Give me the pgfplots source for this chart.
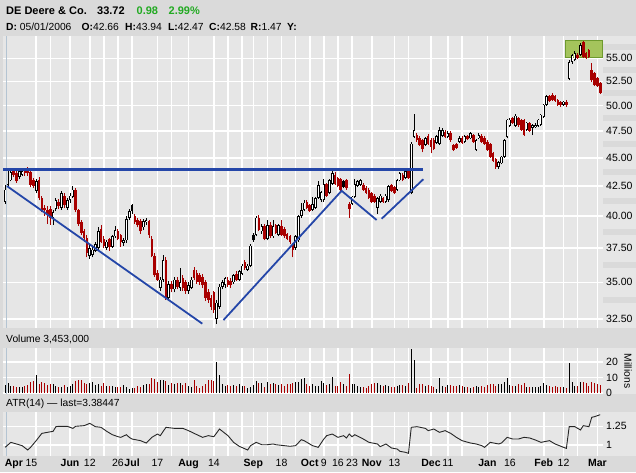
\documentclass[border=0pt]{standalone}
\usepackage{fontspec}
\setmainfont{Liberation Sans}
\usepackage{pgfplots}
\usepackage{pgfplotstable}
\pgfplotsset{compat=1.18}
\definecolor{bg}{HTML}{DADADA}
\definecolor{plotbg}{HTML}{E6E6E6}
\definecolor{cred}{HTML}{A80000}
\definecolor{tblue}{HTML}{2446A8}
\definecolor{cgreen}{HTML}{22AA22}
\definecolor{gfill}{HTML}{A4C45C}
\definecolor{gdraw}{HTML}{6E9A2E}
\definecolor{cross}{HTML}{B4C4D2}

% j = trading day (0 = 28 Apr 2006), o h l c, t: 0 down (red), 1 up (hollow), 2 down-filled black, v = volume (millions)
\pgfplotstableread{
j o h l c t v
0 41.2 42.6 41.0 42.2 1 5.2
1 42.66 43.94 42.47 42.58 2 6.5
2 43.0 44.0 42.9 43.7 1 4.7
3 43.9 44.0 43.3 43.5 0 4.3
4 43.6 43.8 42.8 42.9 0 3.7
5 43.3 43.9 43.1 43.8 1 4.1
6 43.5 43.9 43.4 43.8 1 4.1
7 43.8 43.9 43.4 43.6 0 4.7
8 43.9 44.2 43.4 43.6 0 5.2
9 43.7 43.9 42.4 42.6 0 7.3
10 43.0 43.2 42.3 42.5 0 8.0
11 42.1 43.1 41.9 42.9 1 11.6
12 43.0 43.3 41.3 41.5 0 5.8
13 41.5 41.7 40.3 40.5 0 6.9
14 40.7 40.9 40.0 40.5 0 6.5
15 40.5 40.8 39.4 40.1 0 5.2
16 40.6 40.8 39.3 39.9 0 5.8
17 39.9 40.5 39.3 40.3 1 5.8
18 40.6 41.5 40.4 41.3 1 4.7
19 41.2 41.4 40.6 40.8 0 3.7
20 40.7 42.1 40.5 41.9 1 3.7
21 41.7 41.9 40.7 40.9 0 5.2
22 40.7 41.5 40.5 41.3 1 3.7
23 41.3 41.9 41.1 41.7 1 4.7
24 41.6 42.5 41.5 42.2 1 5.8
25 42.2 42.3 40.3 40.5 0 8.0
26 40.5 40.6 39.2 39.4 0 8.6
27 39.5 39.7 38.5 38.7 0 8.6
28 38.8 39.0 38.0 38.3 0 6.5
29 38.3 38.5 36.8 37.1 0 5.8
30 36.9 37.8 36.7 37.5 1 6.5
31 37.0 37.6 36.8 37.4 1 6.9
32 37.3 38.0 37.2 37.8 1 5.2
33 37.5 39.1 37.4 38.8 1 5.6
34 39.0 39.3 37.9 38.0 0 4.7
35 38.2 38.4 37.5 37.7 0 6.5
36 37.5 38.1 37.4 38.0 1 4.7
37 38.2 38.3 37.3 37.6 0 4.3
38 37.6 38.5 37.5 38.4 1 4.3
39 38.4 39.2 38.3 38.9 1 3.7
40 38.8 39.0 38.1 38.2 0 3.9
41 38.5 38.6 37.6 38.0 0 3.7
42 37.9 38.3 37.7 38.1 1 5.2
43 38.1 40.0 37.9 39.8 1 4.1
44 39.9 40.6 39.7 40.4 1 2.6
45 40.9 41.0 40.2 40.4 2 3.0
46 40.0 40.2 39.4 39.5 0 3.4
47 39.7 39.9 39.1 39.3 0 4.3
48 39.6 39.8 38.6 38.8 0 3.7
49 39.1 39.8 38.9 39.6 1 5.2
50 39.5 39.9 39.3 39.7 1 5.8
51 39.6 39.7 38.3 38.5 0 5.8
52 38.2 38.4 36.8 36.9 0 9.5
53 36.9 37.1 35.4 35.5 0 9.0
54 35.7 35.9 35.1 35.2 0 6.9
55 34.6 35.4 34.4 35.2 1 8.6
56 35.2 37.0 35.0 36.6 1 8.6
57 36.6 36.8 33.8 33.9 0 8.0
58 33.9 35.1 33.7 34.9 1 5.2
59 34.9 35.1 34.3 34.5 0 6.5
60 34.5 35.4 34.3 35.2 1 5.6
61 35.2 35.4 34.5 34.7 0 6.5
62 34.6 36.0 34.4 35.0 1 6.5
63 35.3 35.5 34.4 34.6 0 5.2
64 35.0 35.2 34.2 34.4 0 6.5
65 34.4 35.0 34.2 34.8 1 4.7
66 34.6 35.4 34.5 35.2 1 3.7
67 35.9 36.1 35.2 35.3 0 8.6
68 35.7 35.9 34.9 35.0 0 4.3
69 35.5 35.7 34.8 35.0 0 3.4
70 35.4 35.6 34.6 34.8 0 4.3
71 35.0 35.2 33.7 33.9 0 5.8
72 34.3 34.5 33.6 33.8 0 8.6
73 33.9 34.1 33.1 33.3 0 8.6
74 34.3 34.4 32.9 33.1 0 8.0
75 32.5 33.8 32.2 33.6 1 20.2
76 33.3 34.9 33.2 34.7 1 11.6
77 34.7 35.2 34.5 35.0 1 5.8
78 34.8 35.4 34.6 35.3 1 4.7
79 35.2 35.4 34.7 34.8 0 5.2
80 35.1 35.3 34.6 34.8 0 4.7
81 35.0 35.6 34.9 35.5 1 5.2
82 35.6 35.8 35.1 35.2 0 4.7
83 35.2 35.9 35.1 35.8 1 5.6
84 35.6 36.3 35.5 36.2 1 4.3
85 36.5 36.6 35.9 36.0 0 4.3
86 35.9 36.3 35.8 36.2 1 3.4
87 36.2 37.8 36.1 37.7 1 3.9
88 38.5 38.7 38.0 38.1 2 5.2
89 38.5 40.0 38.4 39.9 1 7.7
90 39.9 40.1 38.8 38.9 0 6.5
91 38.8 39.4 38.6 39.2 1 6.5
92 39.2 39.4 38.1 38.2 0 3.9
93 38.2 39.7 38.1 39.3 1 6.9
94 39.3 39.5 38.3 38.4 0 6.0
95 38.4 39.7 38.3 39.2 1 6.5
96 39.3 39.4 38.6 38.7 0 5.6
97 38.5 39.4 38.4 39.3 1 5.2
98 39.2 39.7 38.4 38.5 0 5.8
99 39.0 39.1 38.3 38.4 0 4.3
100 38.6 38.7 38.1 38.2 0 5.6
101 38.4 38.5 37.8 38.0 0 5.6
102 37.8 37.9 36.8 37.4 0 6.5
103 37.5 38.5 37.4 38.4 1 7.3
104 38.1 40.1 38.0 40.0 1 7.3
105 40.0 41.1 39.9 40.5 1 9.0
106 40.5 41.3 40.4 41.1 1 9.5
107 41.2 41.3 40.6 40.7 0 5.6
108 40.9 41.0 40.3 40.4 0 4.7
109 40.5 41.6 40.4 41.0 1 5.6
110 40.7 41.6 40.6 41.5 1 4.7
111 41.5 42.9 41.4 42.6 1 4.3
112 41.3 42.1 41.2 42.0 1 8.0
113 41.3 43.1 41.2 42.7 1 6.5
114 42.7 42.8 41.6 41.7 0 5.2
115 41.9 43.1 41.8 43.0 1 5.8
116 42.7 43.9 42.6 43.6 1 10.1
117 43.5 43.7 42.6 42.7 0 4.7
118 43.2 43.3 42.4 42.5 0 4.3
119 43.1 43.2 42.1 42.2 0 6.9
120 42.9 43.0 42.3 42.4 2 5.8
121 43.0 43.1 42.2 42.3 0 4.7
122 41.0 41.2 39.9 40.6 0 12.3
123 41.0 41.7 40.9 41.6 1 5.8
124 41.6 43.1 41.5 42.7 1 5.8
125 42.5 43.0 42.4 42.9 1 4.7
126 42.6 43.1 42.5 43.0 1 4.1
127 42.6 42.8 42.1 42.2 0 3.7
128 42.3 42.5 41.8 41.9 0 3.0
129 42.2 42.3 41.4 41.5 0 4.7
130 41.9 42.0 41.1 41.2 0 6.0
131 41.7 41.8 41.1 41.2 0 6.5
132 40.7 41.6 40.2 41.5 1 6.5
133 41.2 41.8 41.1 41.7 1 5.2
134 41.5 41.6 41.1 41.2 0 4.7
135 41.2 41.8 41.1 41.7 1 5.2
136 41.3 42.6 41.2 42.5 1 4.7
137 42.6 42.7 42.0 42.1 0 3.7
138 42.4 42.5 41.8 41.9 0 4.1
139 42.2 43.1 42.1 43.0 1 4.3
140 43.0 43.7 42.9 43.6 1 5.2
141 43.5 43.6 42.9 43.0 0 5.2
142 43.2 43.9 43.1 43.8 1 4.7
143 43.9 44.0 43.1 43.2 0 6.2
144 41.9 46.5 41.8 46.3 1 28.8
145 46.9 49.2 46.8 47.6 1 21.5
146 47.1 47.3 46.5 46.6 0 3.0
147 46.8 47.0 46.1 46.2 0 5.8
148 46.6 46.7 45.5 45.8 0 5.8
149 46.2 46.9 46.1 46.8 1 4.7
150 47.0 47.2 46.2 46.3 0 5.2
151 46.6 46.8 45.4 46.0 0 4.7
152 46.6 46.8 45.7 45.8 0 3.7
153 46.4 47.1 46.3 47.0 1 2.6
154 46.3 47.9 46.2 47.6 1 9.5
155 47.0 47.8 46.9 47.6 1 4.7
156 47.4 47.6 46.8 46.9 0 4.1
157 46.9 47.5 46.8 47.3 1 5.2
158 47.3 47.5 46.5 46.6 0 5.2
159 46.2 46.3 45.6 45.7 0 4.3
160 46.3 46.4 45.8 45.9 0 4.7
161 46.5 47.0 46.4 46.8 1 5.2
162 46.8 47.0 46.3 46.4 0 4.3
163 46.5 47.1 46.4 47.0 1 3.7
164 47.0 47.1 46.6 46.7 0 3.7
165 46.8 47.4 46.7 47.3 1 3.0
166 47.1 47.2 46.4 46.5 0 3.7
167 45.7 46.7 45.6 46.6 1 4.3
168 46.8 47.3 46.7 47.1 1 3.7
169 47.0 47.2 46.4 46.5 0 4.7
170 46.8 47.0 46.2 46.3 0 3.7
171 46.5 46.6 45.6 45.7 0 5.2
172 46.3 46.4 45.0 45.1 0 5.6
173 45.4 45.5 44.6 44.7 0 6.0
174 44.9 45.0 44.0 44.2 0 4.7
175 44.2 44.7 44.0 44.6 1 5.6
176 44.5 45.2 44.4 45.1 1 5.8
177 45.1 46.7 45.0 46.6 1 6.9
178 46.9 48.7 46.8 48.6 1 9.5
179 48.0 48.8 47.9 48.6 1 5.2
180 48.8 48.9 48.2 48.3 0 4.7
181 48.0 49.2 47.9 49.0 1 4.3
182 48.8 48.9 47.9 48.1 0 5.8
183 48.6 48.7 47.5 47.6 0 5.2
184 48.6 48.7 47.0 47.1 0 6.5
185 47.6 48.4 47.5 48.3 1 3.7
186 48.3 48.4 47.4 47.5 0 3.7
187 47.8 48.2 47.1 48.1 1 3.7
188 47.9 48.3 47.8 48.1 1 3.7
189 48.0 48.7 47.9 48.6 1 3.7
190 48.1 49.2 48.0 49.1 1 4.3
191 48.9 50.2 48.8 50.1 1 6.5
192 50.1 51.1 50.0 51.0 1 5.2
193 51.0 51.1 50.4 50.5 0 4.3
194 51.1 51.3 50.5 50.6 0 3.9
195 51.0 51.1 50.4 50.5 0 4.3
196 50.6 50.7 50.0 50.1 0 3.7
197 50.4 50.5 49.9 50.1 0 3.7
198 50.1 50.5 50.0 50.4 1 3.7
199 50.4 50.6 49.9 50.1 0 3.0
200 52.8 54.8 52.6 54.6 1 19.8
201 54.6 55.5 54.4 55.4 1 7.3
202 54.8 55.8 54.7 55.6 1 4.7
203 55.4 55.6 54.9 55.0 0 4.7
204 55.4 56.7 55.3 56.5 1 6.9
205 56.9 57.0 55.0 55.1 0 7.3
206 55.6 55.7 54.9 55.0 0 6.5
207 55.9 56.0 55.0 55.1 0 4.7
208 53.7 54.5 52.4 52.6 0 7.3
209 53.4 53.5 52.0 52.1 0 6.5
210 52.9 53.0 51.9 52.0 0 5.6
211 52.3 52.4 51.2 51.3 0 5.2
}\candles

\pgfplotstableread{
j a
0 0.964
2 1.032
4 1.010
6 0.987
8 0.928
9 0.964
11 1.055
13 1.154
15 1.168
17 1.182
18 1.245
19 1.250
22 1.250
24 1.222
25 1.250
28 1.259
30 1.290
32 1.245
34 1.236
36 1.182
38 1.136
40 1.109
41 1.100
43 1.136
44 1.100
45 1.077
48 1.055
50 1.023
52 1.100
54 1.145
55 1.123
57 1.236
60 1.222
63 1.222
65 1.191
67 1.154
70 1.100
72 1.123
74 1.109
76 1.213
79 1.123
81 1.032
83 0.978
86 0.928
87 0.987
89 1.032
91 1.000
93 1.000
95 1.010
96 1.000
99 0.987
101 0.978
103 0.987
105 1.068
106 1.055
109 0.987
111 0.964
113 1.077
114 1.123
116 1.145
118 1.100
120 1.123
121 1.091
122 1.145
123 1.109
124 1.136
127 1.077
129 1.032
132 1.010
133 0.973
135 1.010
137 0.955
139 0.941
140 0.910
142 0.896
143 0.883
144 1.236
146 1.245
149 1.222
150 1.191
152 1.213
154 1.168
156 1.191
158 1.154
160 1.100
162 1.055
165 1.023
167 1.010
169 0.987
170 0.964
172 1.032
175 1.010
176 1.023
178 1.100
180 1.077
182 1.077
184 1.100
186 1.091
188 1.064
190 1.032
193 1.055
195 1.010
198 0.964
199 0.950
200 1.245
202 1.245
204 1.200
205 1.259
207 1.245
208 1.372
209 1.381
211 1.408
}\atr

% build candle segment lists (wick and body per candle, separated by nan jumps)
\def\wickR{}\def\wickK{}\def\bodyR{}\def\bodyB{}\def\bodyW{}\def\bodyWi{}
\pgfplotstablegetrowsof{\candles}
\pgfmathtruncatemacro\nrows{\pgfplotsretval-1}
\foreach \r in {0,...,\nrows}{%
  \pgfplotstablegetelem{\r}{j}\of\candles \let\cJ\pgfplotsretval
  \pgfplotstablegetelem{\r}{o}\of\candles \let\cO\pgfplotsretval
  \pgfplotstablegetelem{\r}{h}\of\candles \let\cH\pgfplotsretval
  \pgfplotstablegetelem{\r}{l}\of\candles \let\cL\pgfplotsretval
  \pgfplotstablegetelem{\r}{c}\of\candles \let\cC\pgfplotsretval
  \pgfplotstablegetelem{\r}{t}\of\candles \let\cT\pgfplotsretval
  \ifnum\cT=0\relax
    \xdef\wickR{\wickR(\cJ,\cL)(\cJ,\cH)(\cJ,nan)}%
    \xdef\bodyR{\bodyR(\cJ,\cC)(\cJ,\cO)(\cJ,nan)}%
  \else
    \xdef\wickK{\wickK(\cJ,\cL)(\cJ,\cH)(\cJ,nan)}%
    \ifnum\cT=2\relax
      \xdef\bodyB{\bodyB(\cJ,\cC)(\cJ,\cO)(\cJ,nan)}%
    \else
      \xdef\bodyW{\bodyW(\cJ,\cO)(\cJ,\cC)(\cJ,nan)}%
      \pgfmathsetmacro\cOi{\cO*1.0016}\pgfmathsetmacro\cCi{\cC/1.0016}%
      \xdef\bodyWi{\bodyWi(\cJ,\cOi)(\cJ,\cCi)(\cJ,nan)}%
    \fi
  \fi
}
\newcommand\segplot[2]{\edef\tmp{\noexpand\addplot[#1] coordinates {#2};}\tmp}

\pgfplotsset{
  chartbase/.style={
    anchor=south west, scale only axis, width=600pt,
    xmin=-0.773, xmax=211.99,
    axis background/.style={fill=plotbg},
    axis line style={draw=none},
    major tick length=0pt,
    xtick={11,16,23,30,35,40,45,54,59,65,74,79,84,88,93,98,103,108,113,118,123,130,138,143,151,157,162,171,179,191,198,203,210},
    grid=major, major grid style={white, line width=1.6pt},
    yticklabel pos=right,
    yticklabel style={anchor=west, inner sep=0pt, xshift=3pt, font=\fontsize{10.5}{12}\selectfont},
  },
}

\begin{document}
\begin{tikzpicture}
\fill[bg] (0pt,0pt) rectangle (636pt,472pt);
\fill[plotbg] (603pt,144pt) rectangle (636pt,436pt);
\foreach \sy in {47.2,69.7,93.3,118.1,144.2,171.7,200.9,231.8,264.9,300.3}{
  \fill[bg] (603pt,{(469-\sy)*1pt}) rectangle (636pt,{(475-\sy)*1pt});}
\fill[plotbg] (603pt,78.5pt) rectangle (636pt,124.3pt);
\fill[plotbg] (603pt,16.3pt) rectangle (636pt,59.7pt);

% header
\node[anchor=base west, inner sep=0pt, font=\fontsize{11}{13}\selectfont\bfseries] at (6pt,457pt) {DE Deere \& Co.};
\node[anchor=base west, inner sep=0pt, font=\fontsize{11}{13}\selectfont\bfseries] at (97pt,457pt) {33.72};
\node[anchor=base west, inner sep=0pt, font=\fontsize{11}{13}\selectfont\bfseries, text=cgreen] at (136.5pt,457pt) {0.98};
\node[anchor=base west, inner sep=0pt, font=\fontsize{11}{13}\selectfont\bfseries, text=cgreen] at (168.5pt,457pt) {2.99\%};
\begin{scope}[every node/.style={anchor=base west, inner sep=0pt, font=\fontsize{10.3}{12}\selectfont}]
\node at (6pt,441.3pt) {\textbf{D:} 05/01/2006};
\node at (81.5pt,441.3pt) {\textbf{O:}42.66};
\node at (125pt,441.3pt) {\textbf{H:}43.94};
\node at (168pt,441.3pt) {\textbf{L:}42.47};
\node at (209pt,441.3pt) {\textbf{C:}42.58};
\node at (250.5pt,441.3pt) {\textbf{R:}1.47};
\node at (287pt,441.3pt) {\textbf{Y:}};
\node at (6pt,129.3pt) {Volume 3,453,000};
\node at (6pt,65.5pt) {ATR(14) — last=3.38447};
\end{scope}
\node[rotate=-90, inner sep=0pt, font=\fontsize{10.3}{12}\selectfont] at (628pt,101pt) {Millions};

% ---------- price panel ----------
\begin{axis}[chartbase, at={(3pt,144pt)}, height=292pt,
  ymode=log, ymin=31.92, ymax=57.54,
  xticklabels={},
  ytick={32.5,35,37.5,40,42.5,45,47.5,50,52.5,55},
  yticklabels={32.50,35.00,37.50,40.00,42.50,45.00,47.50,50.00,52.50,55.00},
]
\addplot[cross, line width=1pt] coordinates {(0.6,31.92) (0.6,57.54)};
\addplot[fill=gfill, draw=gdraw, line width=0.8pt] coordinates {(198.6,55.1) (211.9,55.1) (211.9,57.07) (198.6,57.07) (198.6,55.1)};
\segplot{cred, line width=1pt, unbounded coords=jump}{\wickR}
\segplot{black, line width=1pt, unbounded coords=jump}{\wickK}
\segplot{cred, line width=2.6pt, unbounded coords=jump}{\bodyR}
\segplot{black, line width=2.6pt, unbounded coords=jump}{\bodyB}
\segplot{black, line width=2.6pt, unbounded coords=jump}{\bodyW}
\segplot{white, line width=1pt, unbounded coords=jump}{\bodyWi}
% trend lines
\addplot[tblue, line width=2.2pt] coordinates {(-0.7,43.94) (74,43.94) (148.2,43.94)};
\addplot[tblue, line width=1.8pt] coordinates {(0.65,42.5) (69.9,32.2)};
\addplot[tblue, line width=1.8pt] coordinates {(77.4,32.43) (119.3,42.1) (131.7,39.7)};
\addplot[tblue, line width=1.8pt] coordinates {(133.5,39.8) (148.3,43.1)};
\end{axis}

% ---------- volume panel ----------
\begin{axis}[chartbase, at={(3pt,78.5pt)}, height=45.8pt,
  ymin=-0.33, ymax=29.5,
  xticklabels={},
  ytick={0,10,20}, yticklabels={0,10,20},
]
\addplot[cross, line width=1pt] coordinates {(0.6,-0.33) (0.6,29.5)};
\addplot[ycomb, draw=cred, line width=1pt, mark=none, restrict expr to domain={\thisrow{t}}{0:0}]
  table[x=j, y=v] {\candles};
\addplot[ycomb, draw=black, line width=1pt, mark=none, restrict expr to domain={\thisrow{t}}{1:2}]
  table[x=j, y=v] {\candles};
\end{axis}

% ---------- ATR panel ----------
\begin{axis}[chartbase, at={(3pt,16.3pt)}, height=43.4pt,
  ymin=0.8505, ymax=1.4402,
  ytick={1,1.25}, yticklabels={1,1.25},
  xticklabels={{},{},\textbf{Jun},12,{},26,\textbf{Jul},17,{},\textbf{Aug},14,{},{},\textbf{Sep},{},18,{},\textbf{Oct},9,16,23,\textbf{Nov},13,{},\textbf{Dec},11,{},\textbf{Jan},16,\textbf{Feb},12,{},\textbf{Mar}},
  extra x ticks={3.1,9.3},
  extra x tick labels={\textbf{Apr},15},
  extra x tick style={grid=none},
  xticklabel style={anchor=base, inner sep=0pt, yshift=-11pt, font=\fontsize{10.5}{12}\selectfont},
]
\addplot[cross, line width=1pt] coordinates {(0.6,0.8505) (0.6,1.4402)};
\addplot[black!85, line width=0.9pt, mark=none] table[x=j, y=a] {\atr};
\end{axis}

\pgfresetboundingbox
\useasboundingbox (0pt,0pt) rectangle (636pt,472pt);
\end{tikzpicture}
\end{document}
